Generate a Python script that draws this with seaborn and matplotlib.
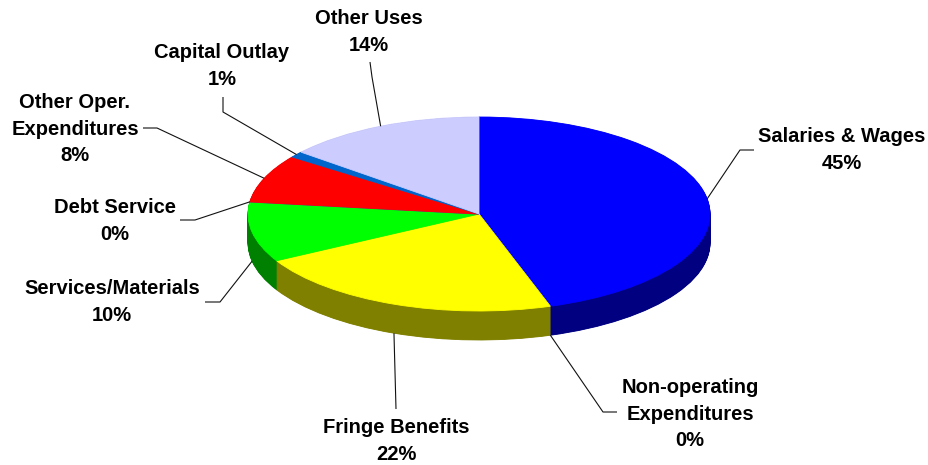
import numpy as np
import matplotlib
matplotlib.use("Agg")
import matplotlib.pyplot as plt
import seaborn as sns

sns.set_theme(style="white")
plt.rcParams["font.family"] = ["Liberation Sans", "DejaVu Sans"]

# Budget shares by category, clockwise from 12 o'clock
categories = [
    "Salaries & Wages",
    "Non-operating\nExpenditures",
    "Fringe Benefits",
    "Services/Materials",
    "Debt Service",
    "Other Oper.\nExpenditures",
    "Capital Outlay",
    "Other Uses",
]
shares = [45, 0, 22, 10, 0, 8, 1, 14]

top_colors = ["#0000FF", "#3333CC", "#FFFF00", "#00FF00", "#663399",
              "#FF0000", "#0066CC", "#CCCCFF"]
side_colors = ["#000080", "#1A1A66", "#808000", "#008000", "#331A4D",
               "#800000", "#003366", "#666680"]

# label block centres and leader elbows (pixel layout)
label_pos = [(842, 150), (690, 414), (396, 441), (112, 302),
             (115, 221), (75, 129), (222, 66), (369, 32)]
leader_start = [(754, 150), (617, 412), (396, 409), (205, 302),
                (180, 220), (143, 128), (223, 97), (370, 62)]
leader_elbow = [(740, 150), (603, 412), None, (220, 302),
                (195, 220), (157, 128), (223, 112), (372, 77)]

W, H = 929, 465
cx, cy, a, b, depth_px = 479, 214, 231, 97, 29
depth = depth_px / b

fig = plt.figure(figsize=(W / 100, H / 100), dpi=100)
ax = fig.add_axes([(cx - a) / W, (H - (cy + b + depth_px)) / H,
                   2 * a / W, (2 * b + depth_px) / H])


def draw_pie(colors, offset, edge_for_zero=False):
    wedges, _ = ax.pie(shares, colors=colors, startangle=90, counterclock=False,
                       center=(0, -offset), radius=1, frame=False,
                       wedgeprops=dict(linewidth=0.6))
    for wdg, col, v in zip(wedges, colors, shares):
        wdg.set_edgecolor(col)
        if v == 0:
            wdg.set_linewidth(0.9 if edge_for_zero else 0)
    return wedges


# side wall: stacked darker copies of the pie
for s in np.linspace(depth, 0, 50)[:-1]:
    draw_pie(side_colors, s)
top = draw_pie(top_colors, 0)
# only the debt-service boundary shows as a thin seam
top[1].set_linewidth(0)
top[4].set_linewidth(0.9)

ax.set_aspect("auto")
ax.set_xlim(-1, 1)
ax.set_ylim(-1 - depth, 1)
ax.axis("off")

lab = fig.add_axes([0, 0, 1, 1])
lab.set_xlim(0, W)
lab.set_ylim(H, 0)
lab.axis("off")
lab.patch.set_alpha(0)

to_px = ax.transData + lab.transData.inverted()

cum = np.cumsum([0] + shares[:-1])
total = float(sum(shares))
for i, (name, v) in enumerate(zip(categories, shares)):
    frac = (cum[i] + v / 2) / total
    ang = 2 * np.pi * frac
    px, py = np.sin(ang), np.cos(ang)
    if py < -0.1:
        py -= depth
    ax_pt = to_px.transform((px, py))
    pts = [leader_start[i]]
    if leader_elbow[i] is not None:
        pts.append(leader_elbow[i])
    pts.append(tuple(ax_pt))
    xs, ys = zip(*pts)
    lab.plot(xs, ys, color="#111111", lw=0.8, solid_capstyle="butt")
    lab.text(label_pos[i][0], label_pos[i][1], f"{name}\n{v:.0f}%",
             ha="center", va="center", fontsize=14.5, fontweight="bold",
             linespacing=1.5, color="black")

fig.savefig("out.png", dpi=100)
